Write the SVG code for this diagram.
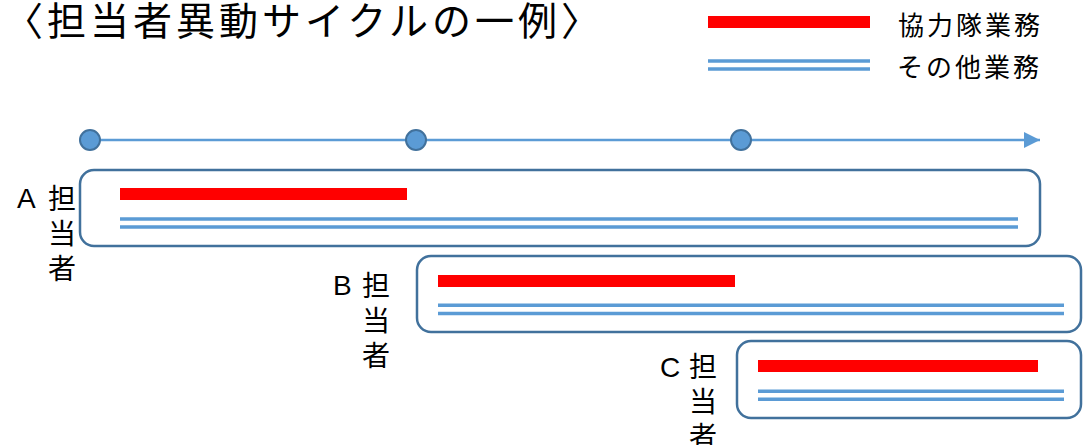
<svg xmlns="http://www.w3.org/2000/svg" width="1083" height="445" viewBox="0 0 1083 445">
<style>
.jp{font-family:"Liberation Sans","Noto Sans CJK JP",sans-serif;fill:#000}
.title{font-size:39px;letter-spacing:4px}
.leg{font-size:26px;letter-spacing:3px}
.lab{font-size:28px}
.box{fill:#fff;stroke:#41719C;stroke-width:2.5}
.red{fill:#FF0000}
.blue{stroke:#5B9BD5;stroke-width:3.5;fill:none}
.tl{stroke:#5B9BD5;stroke-width:2.5;fill:none}
.dot{fill:#5B9BD5;stroke:#41719C;stroke-width:2}
</style>
<defs>
<marker id="arr" markerUnits="userSpaceOnUse" markerWidth="18" markerHeight="18" refX="16" refY="8" orient="auto">
<path d="M0,0 L16,8 L0,16 Z" fill="#5B9BD5"/>
</marker>
</defs>
<rect width="1083" height="445" fill="#fff"/>
<text id="title" class="jp title" x="4" y="35">〈担当者異動サイクルの一例〉</text>
<g id="legend">
<rect class="red" x="708" y="16" width="162" height="12"/>
<text class="jp leg" x="898" y="35">協力隊業務</text>
<line class="blue" x1="708" y1="61" x2="870" y2="61"/>
<line class="blue" x1="708" y1="69" x2="870" y2="69"/>
<text class="jp leg" x="897" y="77">その他業務</text>
</g>
<g id="connectors">
<line class="tl" x1="90" y1="140" x2="1040" y2="140" marker-end="url(#arr)"/>
</g>
<g id="timeline-points">
<circle class="dot" cx="90" cy="140" r="10"/>
<circle class="dot" cx="416" cy="140" r="10"/>
<circle class="dot" cx="741" cy="140" r="10"/>
</g>
<g id="nodeA">
<rect class="box" x="80" y="170" width="960" height="76" rx="14"/>
<rect class="red" x="120" y="188" width="287" height="12"/>
<line class="blue" x1="120" y1="219" x2="1018" y2="219"/>
<line class="blue" x1="120" y1="227" x2="1018" y2="227"/>
<text class="jp lab" x="17" y="208">A</text>
<text class="jp lab" x="48" y="209">担</text>
<text class="jp lab" x="48" y="244">当</text>
<text class="jp lab" x="48" y="279">者</text>
</g>
<g id="nodeB">
<rect class="box" x="417" y="256" width="664" height="76" rx="14"/>
<rect class="red" x="438" y="275" width="297" height="12"/>
<line class="blue" x1="438" y1="305.3" x2="1064" y2="305.3"/>
<line class="blue" x1="438" y1="313.5" x2="1064" y2="313.5"/>
<text class="jp lab" x="333" y="295">B</text>
<text class="jp lab" x="362" y="296">担</text>
<text class="jp lab" x="362" y="331">当</text>
<text class="jp lab" x="362" y="366">者</text>
</g>
<g id="nodeC">
<rect class="box" x="737" y="341" width="344" height="77" rx="14"/>
<rect class="red" x="758" y="360" width="280" height="12"/>
<line class="blue" x1="758" y1="391.3" x2="1064" y2="391.3"/>
<line class="blue" x1="758" y1="399.2" x2="1064" y2="399.2"/>
<text class="jp lab" x="660" y="377">C</text>
<text class="jp lab" x="689" y="377">担</text>
<text class="jp lab" x="689" y="412">当</text>
<text class="jp lab" x="689" y="447">者</text>
</g>
</svg>
